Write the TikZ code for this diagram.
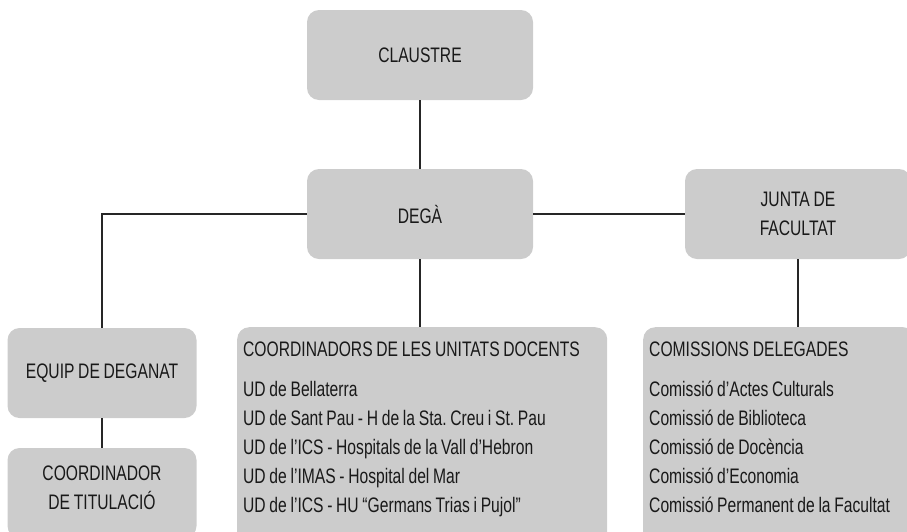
\documentclass[tikz,border=0pt]{standalone}
\usepackage{fontspec}
\setmainfont[FakeStretch=0.745,WordSpace=0.85]{Liberation Sans}
\frenchspacing
\definecolor{boxgray}{RGB}{204,204,204}
\definecolor{inkgray}{RGB}{25,25,25}

\begin{document}
\begin{tikzpicture}[x=1pt,y=-1pt]
  \tikzstyle{box}=[rounded corners=12pt,fill=boxgray,text=inkgray,inner sep=0pt,
    font=\fontsize{21}{29}\selectfont\frenchspacing,align=center]
  \tikzstyle{listbox}=[box,align=flush left,anchor=north west,inner xsep=6pt,inner ysep=15pt]
  \tikzstyle{link}=[draw=black!85,line width=1.1pt]
  \useasboundingbox (0,0) rectangle (907,531);
  \clip (0,0) rectangle (907,531);

  \node[box,minimum width=226pt,minimum height=90pt] (claustre) at (420,55) {CLAUSTRE};
  \node[box,minimum width=226pt,minimum height=90pt] (dega) at (420,214) {DEGÀ};
  \node[box,minimum width=226pt,minimum height=90pt] (junta) at (798,214) {JUNTA DE\\FACULTAT};
  \node[box,minimum width=189pt,minimum height=90pt] (equip) at (102,373) {EQUIP DE DEGANAT};
  \node[box,minimum width=189pt,minimum height=90pt] (coord) at (102,493)
    {COORDINADOR\\DE TITULACIÓ\\[-19pt]\mbox{}};

  \node[listbox,text width=358pt] (ud) at (237,327)
    {COORDINADORS DE LES UNITATS DOCENTS\\[11pt]
     UD de Bellaterra\\
     UD de Sant Pau - H de la Sta. Creu i St. Pau\\
     UD de l’ICS - Hospitals de la Vall d’Hebron\\
     UD de l’IMAS - Hospital del Mar\\
     UD de l’ICS - HU “Germans Trias i Pujol”\\
     \mbox{}};
  \node[listbox,text width=260pt] (comis) at (643,327)
    {COMISSIONS DELEGADES\\[11pt]
     Comissió d’Actes Culturals\\
     Comissió de Biblioteca\\
     Comissió de Docència\\
     Comissió d’Economia\\
     Comissió Permanent de la Facultat\\
     \mbox{}};

  \draw[link] (claustre) -- (dega);
  \draw[link] (dega) -- (junta);
  \draw[link] (dega.west) -| (equip.north);
  \draw[link] (equip) -- (coord);
  \draw[link] (dega.south) -- (dega.south |- ud.north);
  \draw[link] (junta.south) -- (junta.south |- comis.north);

\end{tikzpicture}
\end{document}
